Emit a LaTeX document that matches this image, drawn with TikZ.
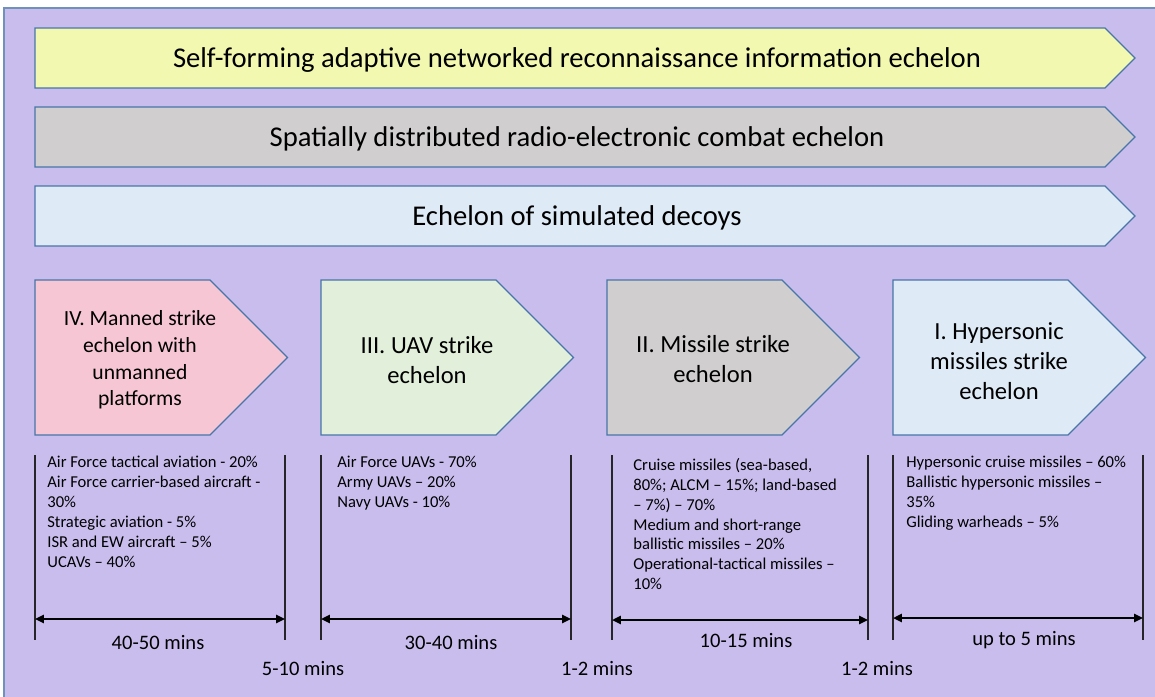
\documentclass[tikz,border=0pt]{standalone}
\usepackage{fontspec}
\setmainfont{Carlito}
\usetikzlibrary{arrows.meta}
\usepackage{xcolor}

\definecolor{bgpurple}{RGB}{201,189,237}
\definecolor{frameblue}{RGB}{112,146,186}
\definecolor{edgeblue}{RGB}{72,118,168}
\definecolor{fillyellow}{RGB}{243,248,176}
\definecolor{fillgray}{RGB}{208,206,206}
\definecolor{fillblue}{RGB}{222,234,246}
\definecolor{fillpink}{RGB}{246,198,212}
\definecolor{fillgreen}{RGB}{226,239,218}

\begin{document}
\begin{tikzpicture}[x=0.02cm, y=-0.02cm]
        % ================= styles =================
        \tikzset{
            % pentagon outline
            shape_line/.style={draw=edgeblue, line width=0.7pt, line join=miter},
            % texts
            banner_text/.style={inner sep=0pt, font=\fontsize{16.3}{19}\selectfont},
            box_text/.style={inner sep=0pt, align=center, font=\fontsize{14}{17}\selectfont},
            small_box_text/.style={box_text, font=\fontsize{12.3}{15.2}\selectfont},
            list_text/.style={inner sep=0pt, anchor=north west, align=left, font=\fontsize{9.45}{11.3}\selectfont},
            time_text/.style={inner sep=0pt, font=\fontsize{11.7}{14}\selectfont},
            % timeline lines
            tick_line/.style={line width=0.6pt, black!85},
            span_arrow/.style={line width=1.3pt, {Triangle[length=5pt,width=4.5pt]}-{Triangle[length=5pt,width=4.5pt]}}
        }

        % pentagon: left x, top y, body width, height, fill
        \def\pentarrow#1#2#3#4#5{%
            \draw[shape_line, fill=#5] (#1,#2) -- ++(#3,0) -- ++(#4/2,#4/2) -- ++(-#4/2,#4/2) -- ++(-#3,0) -- cycle;}

        % ================= canvas =================
        \useasboundingbox (0,0) rectangle (1155,696);
        \clip (0,0) rectangle (1155,696);
        \draw[frameblue, line width=1pt, fill=bgpurple] (4,8) rectangle (1175,720);

        % ================= banners (top) =================
        \pentarrow{35}{28}{1070}{60}{fillyellow}
        \pentarrow{35}{107}{1070}{60}{fillgray}
        \pentarrow{35}{186}{1070}{60}{fillblue}

        \node[banner_text] (recon) at (577,60) {Self-forming adaptive networked reconnaissance information echelon};
        \node[banner_text] (rec) at (577,139) {Spatially distributed radio-electronic combat echelon};
        \node[banner_text] (decoys) at (577,218) {Echelon of simulated decoys};

        % ================= strike echelons =================
        \pentarrow{35}{280}{175}{155}{fillpink}
        \pentarrow{321}{280}{175}{155}{fillgreen}
        \pentarrow{607}{280}{175}{155}{fillgray}
        \pentarrow{893}{280}{175}{155}{fillblue}

        \node[small_box_text] (manned) at (140,360) {IV. Manned strike\\echelon with\\unmanned\\platforms};
        \node[box_text] (uav) at (427,360) {III. UAV strike\\echelon};
        \node[box_text] (missile) at (713,359) {II. Missile strike\\echelon};
        \node[box_text] (hyper) at (999,361) {I. Hypersonic\\missiles strike\\echelon};

        % ================= force composition =================
        \node[list_text] (manned_list) at (47,456) {Air Force tactical aviation - 20\%\\Air Force carrier-based aircraft -\\30\%\\Strategic aviation - 5\%\\ISR and EW aircraft – 5\%\\UCAVs – 40\%};
        \node[list_text] (uav_list) at (337,456) {Air Force UAVs - 70\%\\Army UAVs – 20\%\\Navy UAVs - 10\%};
        \node[list_text] (missile_list) at (633,458) {Cruise missiles (sea-based,\\80\%; ALCM – 15\%; land-based\\– 7\%) – 70\%\\Medium and short-range\\ballistic missiles – 20\%\\Operational-tactical missiles –\\10\%};
        \node[list_text] (hyper_list) at (906,456) {Hypersonic cruise missiles – 60\%\\Ballistic hypersonic missiles –\\35\%\\Gliding warheads – 5\%};

        % ================= timelines =================
        \coordinate (t4a) at (35,455);    \coordinate (t4b) at (35,640);
        \coordinate (t4c) at (285,455);   \coordinate (t4d) at (285,640);
        \coordinate (t3a) at (321,455);   \coordinate (t3b) at (321,640);
        \coordinate (t3c) at (571,455);   \coordinate (t3d) at (571,640);
        \coordinate (t2a) at (612,455);   \coordinate (t2b) at (612,640);
        \coordinate (t2c) at (868,455);   \coordinate (t2d) at (868,640);
        \coordinate (t1a) at (893,455);   \coordinate (t1b) at (893,640);
        \coordinate (t1c) at (1143,455);  \coordinate (t1d) at (1143,640);

        \draw[tick_line] (t4a) -- (t4b);  \draw[tick_line] (t4c) -- (t4d);
        \draw[tick_line] (t3a) -- (t3b);  \draw[tick_line] (t3c) -- (t3d);
        \draw[tick_line] (t2a) -- (t2b);  \draw[tick_line] (t2c) -- (t2d);
        \draw[tick_line] (t1a) -- (t1b);  \draw[tick_line] (t1c) -- (t1d);

        \coordinate (a4l) at (35,619);    \coordinate (a4r) at (285,619);
        \coordinate (a3l) at (321,619);   \coordinate (a3r) at (571,619);
        \coordinate (a2l) at (612,620);   \coordinate (a2r) at (868,620);
        \coordinate (a1l) at (893,618);   \coordinate (a1r) at (1143,618);

        \draw[span_arrow] (a4l) -- (a4r);
        \draw[span_arrow] (a3l) -- (a3r);
        \draw[span_arrow] (a2l) -- (a2r);
        \draw[span_arrow] (a1l) -- (a1r);

        % durations
        \node[time_text] (d4) at (158,642) {40-50 mins};
        \node[time_text] (d3) at (451,642) {30-40 mins};
        \node[time_text] (d2) at (746,640) {10-15 mins};
        \node[time_text] (d1) at (1024,640) {up to 5 mins};

        % gaps
        \node[time_text] (g43) at (303,668) {5-10 mins};
        \node[time_text] (g32) at (597,668) {1-2 mins};
        \node[time_text] (g21) at (877,668) {1-2 mins};

    \end{tikzpicture}
\end{document}
